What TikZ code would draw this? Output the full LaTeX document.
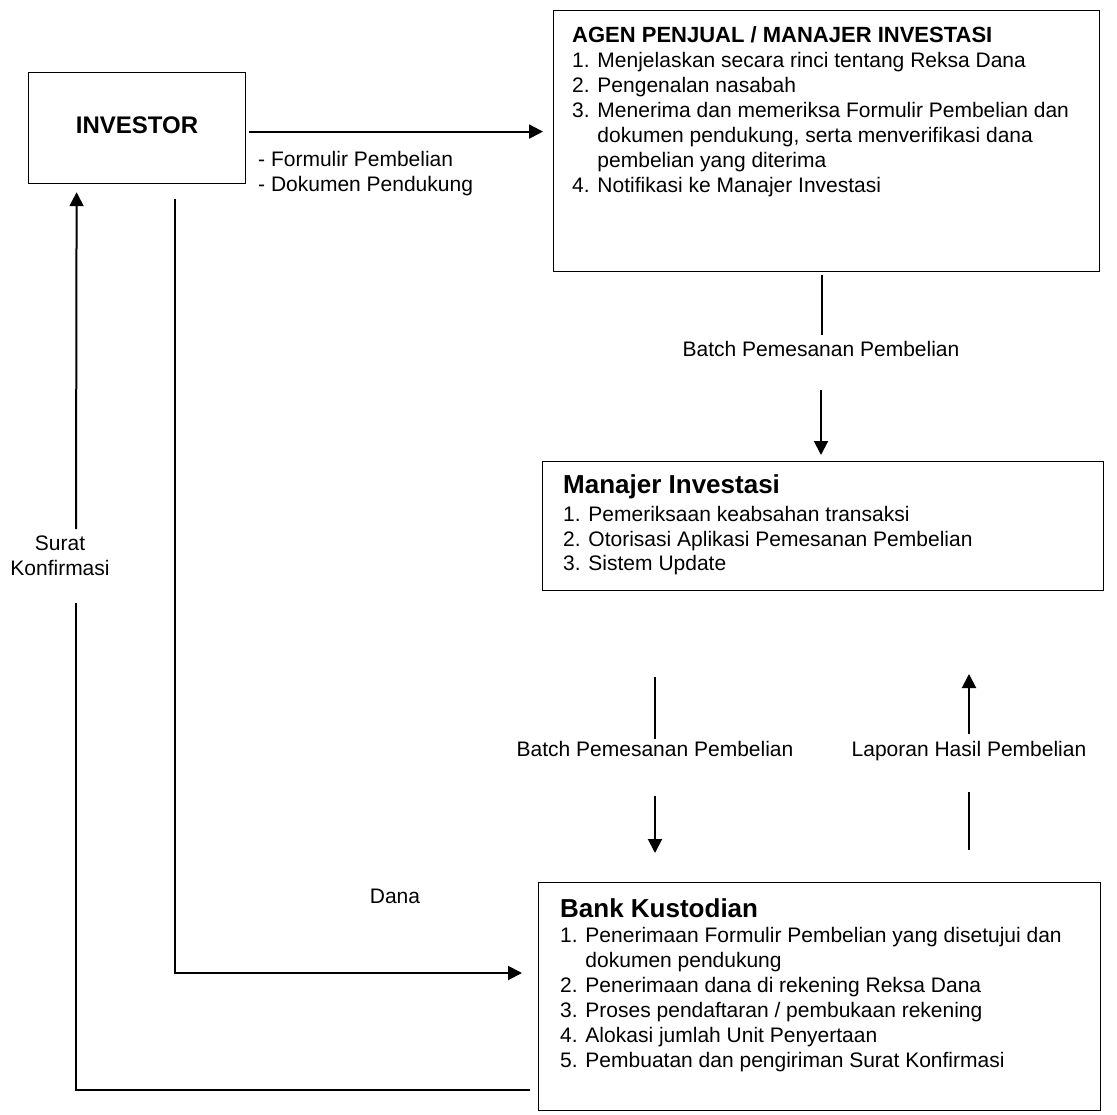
\documentclass[tikz,border=0pt]{standalone}
\usepackage{fontspec}
\setmainfont{Liberation Sans}
\usetikzlibrary{arrows.meta,positioning}

\newcommand{\contd}{\phantom{0. }}

\tikzset{
    box/.style={draw, line width=1.2pt, inner sep=0pt, anchor=north west},
    flow/.style={line width=2pt, -{Triangle[length=14pt,width=14pt]}},
    plain/.style={line width=2pt},
    lbl/.style={inner sep=0pt, anchor=base},
    item/.style={inner sep=0pt, anchor=base west},
    head/.style={inner sep=0pt, anchor=west, font=\bfseries\fontsize{26}{30}\selectfont},
}

\begin{document}
\begin{tikzpicture}[x=1pt, y=-1pt, font=\fontsize{21}{25}\selectfont]
    \useasboundingbox (0,0) rectangle (1117,1115);

    % investor
    \node[box, minimum width=217pt, minimum height=111pt] (investor) at (28,72) {};
    \node[font=\bfseries\fontsize{24}{28}\selectfont] (investorlbl) at ([yshift=3pt]investor.center) {INVESTOR};

    % agen penjual
    \node[box, minimum width=546pt, minimum height=261pt] (agen) at (553,10) {};
    \node[head, font=\bfseries\fontsize{22}{26}\selectfont] (agenhead) at (572,35) {AGEN PENJUAL / MANAJER INVESTASI};
    \foreach \txt [count=\i] in {{1. Menjelaskan secara rinci tentang Reksa Dana}, {2. Pengenalan nasabah},
        {3. Menerima dan memeriksa Formulir Pembelian dan}, {\contd dokumen pendukung, serta menverifikasi dana},
        {\contd pembelian yang diterima}, {4. Notifikasi ke Manajer Investasi}} {
        \node[item] (agen-\i) at (572, 42.5+25*\i) {\txt};
    }

    % manajer investasi
    \node[box, minimum width=561pt, minimum height=129pt] (manajer) at (542,461) {};
    \node[head] (manajerhead) at (563,487) {Manajer Investasi};
    \foreach \txt [count=\i] in {1. Pemeriksaan keabsahan transaksi, 2. Otorisasi Aplikasi Pemesanan Pembelian,
        3. Sistem Update} {
        \node[item] (manajer-\i) at (563, 497+24.5*\i) {\txt};
    }

    % bank kustodian
    \node[box, minimum width=562pt, minimum height=228pt] (bank) at (538,882) {};
    \node[head] (bankhead) at (560,908) {Bank Kustodian};
    \foreach \txt [count=\i] in {{1. Penerimaan Formulir Pembelian yang disetujui dan}, {\contd dokumen pendukung},
        {2. Penerimaan dana di rekening Reksa Dana}, {3. Proses pendaftaran / pembukaan rekening},
        {4. Alokasi jumlah Unit Penyertaan}, {5. Pembuatan dan pengiriman Surat Konfirmasi}} {
        \node[item] (bank-\i) at (560, 917.5+25*\i) {\txt};
    }

    % investor -> agen
    \coordinate (formstart) at ([xshift=3pt,yshift=-3.5pt]investor.east);
    \draw[flow, shorten >=10pt] (formstart) -- (formstart -| agen.west);
    \foreach \txt [count=\i] in {- Formulir Pembelian, - Dokumen Pendukung} {
        \node[item] (form-\i) at (258, 141+25.5*\i) {\txt};
    }

    % agen -> manajer
    \node[lbl] (batchtop) at (821,356.5) {Batch Pemesanan Pembelian};
    \draw[plain] ([xshift=-5pt,yshift=-3pt]agen.south) -- ++(0,60);
    \draw[flow] (821,390) -- (821,455);

    % manajer <-> bank
    \node[lbl] (batchlow) at (655,756) {Batch Pemesanan Pembelian};
    \draw[plain] (655,677) -- (655,739);
    \draw[flow] (655,796) -- (655,853);
    \node[lbl] (laporan) at (969,756) {Laporan Hasil Pembelian};
    \draw[plain] (969,850) -- (969,792);
    \draw[flow] (969,734) -- (969,674);

    % dana
    \node[lbl] (dana) at (395,903.5) {Dana};
    \coordinate (danastart) at ([xshift=37.5pt,yshift=-15pt]investor.south);
    \coordinate (danaend) at (522,973);
    \draw[flow] (danastart) |- (danaend);

    % surat konfirmasi
    \node[lbl] (surat) at (60,550.5) {Surat};
    \node[lbl] (konfirmasi) at (60,575.5) {Konfirmasi};
    \coordinate (suratstart) at (530,1090);
    \draw[plain] (suratstart) -| (76,603);
    \draw[flow] (76,529) -- ([xshift=-60.5pt,yshift=-8pt]investor.south);
\end{tikzpicture}
\end{document}
